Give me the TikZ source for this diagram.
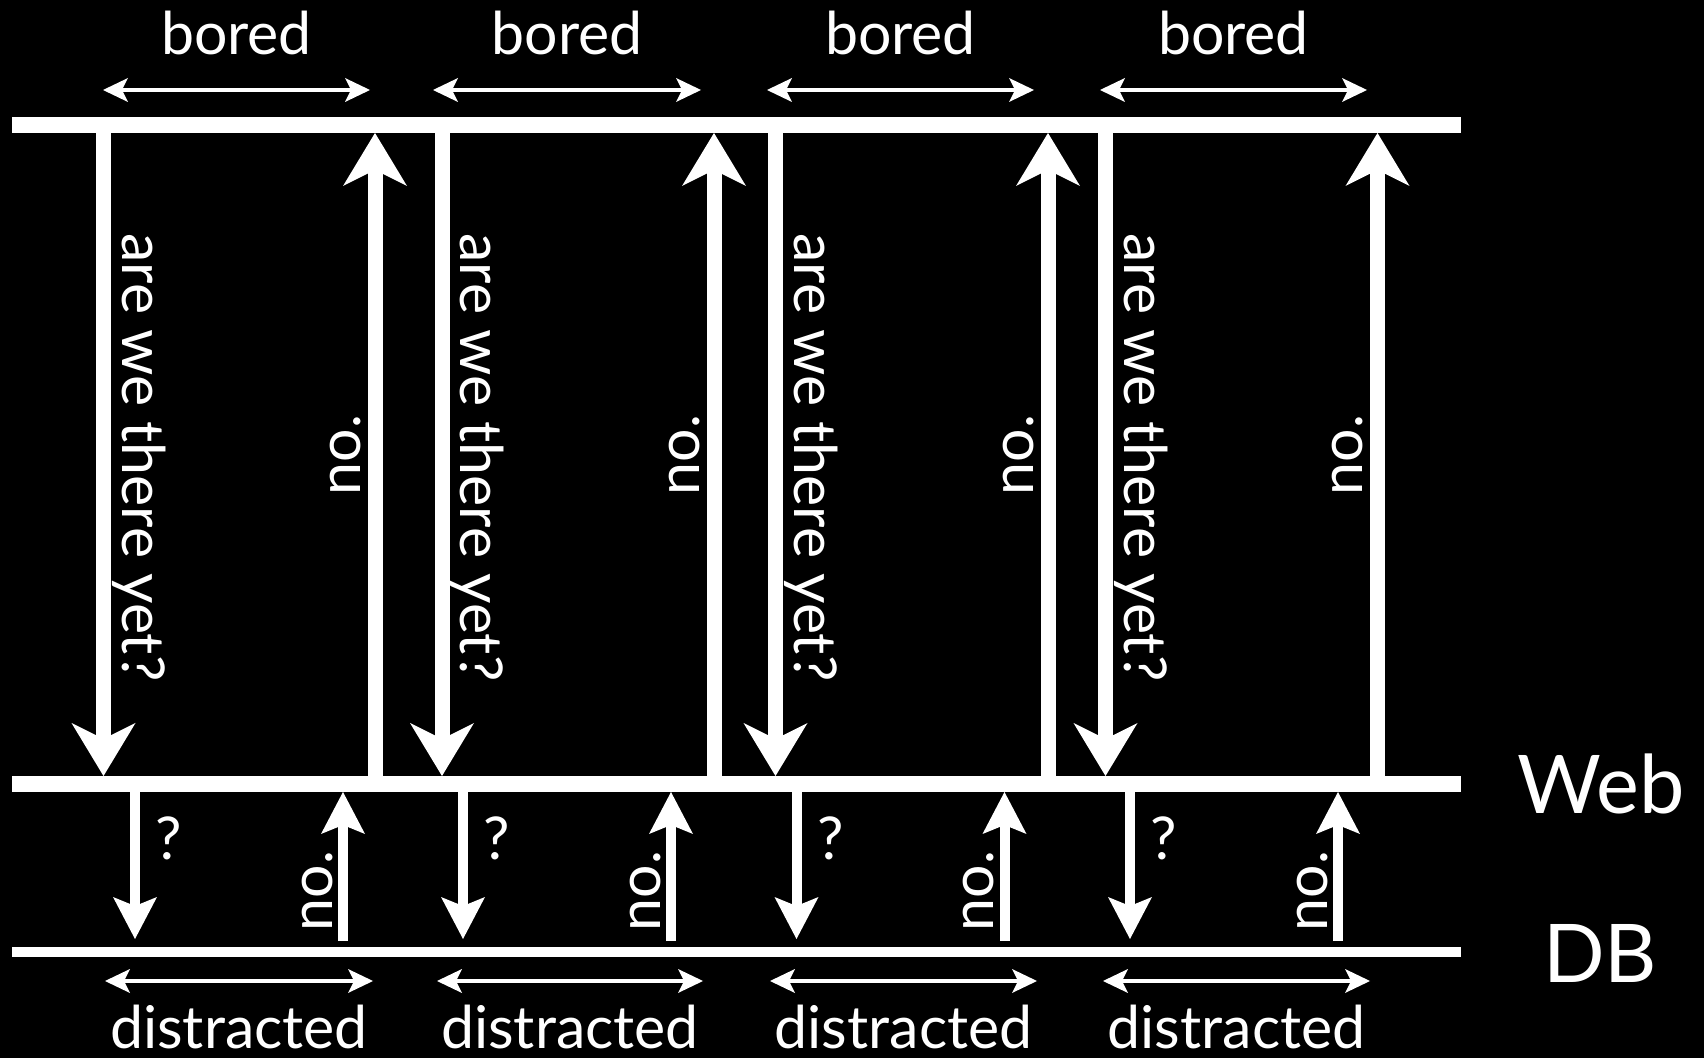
\documentclass[tikz,border=0pt]{standalone}
\usepackage{fontspec}
\setmainfont{Lato}
\usetikzlibrary{arrows.meta}
\begin{document}
\begin{tikzpicture}[x=0.5pt,y=-0.5pt,
  bar/.style={white,line width=8pt},
  dbbar/.style={white,line width=5.25pt},
  bigarrow/.style={white,line width=7.5pt,-{Stealth[length=26.5pt,width=32pt,inset=8pt,line width=0pt]}},
  smallarrow/.style={white,line width=5pt,-{Stealth[length=21pt,width=22pt,inset=4.5pt,line width=0pt]}},
  spanarrow/.style={white,line width=2.2pt,{Stealth[length=12.5pt,width=12pt,inset=3pt,line width=0pt]}-{Stealth[length=12.5pt,width=12pt,inset=3pt,line width=0pt]}},
  lbl/.style={text=white,font=\fontsize{29.5}{32}\selectfont,inner sep=0pt},
  biglbl/.style={text=white,font=\fontsize{40.5}{44}\selectfont,inner sep=0pt}
]
\fill[black] (0,0) rectangle (1704,1058);
\useasboundingbox (0,0) rectangle (1704,1058);

\coordinate (topL) at (12,125); \coordinate (topR) at (1461,125);
\coordinate (webL) at (12,784); \coordinate (webR) at (1461,784);
\coordinate (dbL) at (12,952);  \coordinate (dbR) at (1461,952);

\foreach \xD/\xU/\xd/\xu/\xtl/\xtr/\xbl/\xbr [count=\i] in
  {103.5/375/135/343/103/370/105/373,
   442/714/463/671/433/701/437/703,
   775.5/1048/796.5/1004.5/767/1034/770/1037,
   1105.5/1377.5/1130/1338/1100/1367/1103/1370}{
  \coordinate (Ds\i) at (\xD,125);  \coordinate (De\i) at (\xD,776);
  \coordinate (Us\i) at (\xU,784);  \coordinate (Ue\i) at (\xU,133);
  \coordinate (ds\i) at (\xd,784);  \coordinate (de\i) at (\xd,939);
  \coordinate (us\i) at (\xu,941);  \coordinate (ue\i) at (\xu,792);
  \coordinate (tl\i) at (\xtl,90);  \coordinate (tr\i) at (\xtr,90);
  \coordinate (bl\i) at (\xbl,981); \coordinate (br\i) at (\xbr,981);
  \draw[bigarrow] (Ds\i) -- (De\i);
  \draw[bigarrow] (Us\i) -- (Ue\i);
  \draw[smallarrow] (ds\i) -- (de\i);
  \draw[smallarrow] (us\i) -- (ue\i);
  \draw[spanarrow] (tl\i) -- (tr\i);
  \draw[spanarrow] (bl\i) -- (br\i);
  \node[lbl,anchor=base] (bored\i) at ({(\xtl+\xtr)/2},55) {bored};
  \node[lbl,anchor=base] (dist\i) at ({(\xbl+\xbr)/2},1048) {distracted};
  \node[lbl,rotate=-90,anchor=base] (yet\i) at (\xD+18.5,457.5) {are we there yet?};
  \node[lbl,rotate=90,anchor=base] (noA\i) at (\xU-15,455) {no.};
  \node[lbl,rotate=90,anchor=base] (noB\i) at (\xu-11,891) {no.};
  \node[lbl,anchor=base] (q\i) at (\xd+34,860) {?};
}

\draw[bar] (topL) -- (topR);
\draw[bar] (webL) -- (webR);
\draw[dbbar] (dbL) -- (dbR);

\node[biglbl,anchor=base] (web) at (1601,813) {Web};
\node[biglbl,anchor=base] (db) at (1600,982) {DB};
\end{tikzpicture}
\end{document}
